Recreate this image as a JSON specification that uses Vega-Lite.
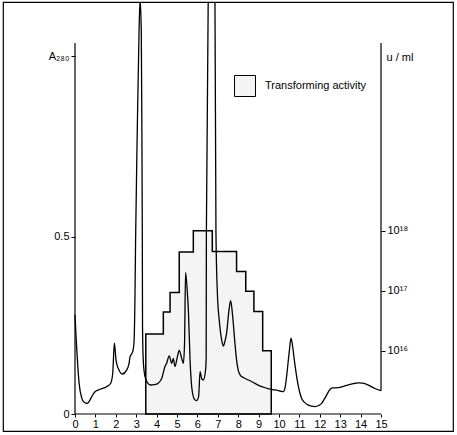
{
  "$schema": "https://vega.github.io/schema/vega-lite/v6.json",
  "width": 450,
  "height": 429,
  "autosize": "none",
  "padding": {"left": 3, "top": 2, "right": 4, "bottom": 4},
  "config": {
    "view": {"stroke": "black", "strokeWidth": 1.2},
    "font": "Liberation Sans",
    "axis": {"labelFont": "Liberation Sans", "labelColor": "black", "tickColor": "black", "grid": false, "domain": false, "labelFontSize": 11}
  },
  "datasets": {
    "activity": [
      {"fraction": 3.47, "units_per_ml": 1.9e16},
      {"fraction": 4.33, "units_per_ml": 4.4e16},
      {"fraction": 4.66, "units_per_ml": 9.3e16},
      {"fraction": 5.11, "units_per_ml": 4.4e17},
      {"fraction": 5.8, "units_per_ml": 1.0e18},
      {"fraction": 6.73, "units_per_ml": 4.5e17},
      {"fraction": 7.92, "units_per_ml": 2.1e17},
      {"fraction": 8.37, "units_per_ml": 9.8e16},
      {"fraction": 8.77, "units_per_ml": 4.5e16},
      {"fraction": 9.2, "units_per_ml": 1.0e16},
      {"fraction": 9.62, "units_per_ml": 1.0e16}
    ],
    "a280": [
      {"fraction": 0.0, "A280": 0.28},
      {"fraction": 0.05, "A280": 0.22},
      {"fraction": 0.11, "A280": 0.16},
      {"fraction": 0.2, "A280": 0.088},
      {"fraction": 0.33, "A280": 0.045},
      {"fraction": 0.45, "A280": 0.033},
      {"fraction": 0.6, "A280": 0.03},
      {"fraction": 0.72, "A280": 0.038},
      {"fraction": 0.82, "A280": 0.049},
      {"fraction": 0.98, "A280": 0.063},
      {"fraction": 1.23, "A280": 0.07},
      {"fraction": 1.55, "A280": 0.077},
      {"fraction": 1.75, "A280": 0.087},
      {"fraction": 1.85, "A280": 0.115},
      {"fraction": 1.93, "A280": 0.2},
      {"fraction": 2.01, "A280": 0.153},
      {"fraction": 2.12, "A280": 0.129},
      {"fraction": 2.32, "A280": 0.113},
      {"fraction": 2.53, "A280": 0.124},
      {"fraction": 2.65, "A280": 0.143},
      {"fraction": 2.7, "A280": 0.162},
      {"fraction": 2.83, "A280": 0.176},
      {"fraction": 2.89, "A280": 0.2},
      {"fraction": 2.94, "A280": 0.33},
      {"fraction": 2.97, "A280": 0.49},
      {"fraction": 3.05, "A280": 0.79},
      {"fraction": 3.14, "A280": 1.08},
      {"fraction": 3.19, "A280": 1.17},
      {"fraction": 3.25, "A280": 1.08},
      {"fraction": 3.28, "A280": 0.79},
      {"fraction": 3.3, "A280": 0.49},
      {"fraction": 3.31, "A280": 0.25},
      {"fraction": 3.34, "A280": 0.16},
      {"fraction": 3.39, "A280": 0.12},
      {"fraction": 3.46, "A280": 0.1},
      {"fraction": 3.56, "A280": 0.088},
      {"fraction": 3.7, "A280": 0.082},
      {"fraction": 3.9, "A280": 0.083},
      {"fraction": 4.08, "A280": 0.087},
      {"fraction": 4.25, "A280": 0.1},
      {"fraction": 4.41, "A280": 0.134},
      {"fraction": 4.49, "A280": 0.143},
      {"fraction": 4.62, "A280": 0.164},
      {"fraction": 4.74, "A280": 0.143},
      {"fraction": 4.82, "A280": 0.157},
      {"fraction": 4.9, "A280": 0.134},
      {"fraction": 5.02, "A280": 0.162},
      {"fraction": 5.11, "A280": 0.18},
      {"fraction": 5.23, "A280": 0.157},
      {"fraction": 5.31, "A280": 0.143},
      {"fraction": 5.37, "A280": 0.2},
      {"fraction": 5.42, "A280": 0.4},
      {"fraction": 5.5, "A280": 0.35},
      {"fraction": 5.56, "A280": 0.29},
      {"fraction": 5.64, "A280": 0.153},
      {"fraction": 5.72, "A280": 0.077},
      {"fraction": 5.85, "A280": 0.042},
      {"fraction": 5.96, "A280": 0.038},
      {"fraction": 6.06, "A280": 0.05},
      {"fraction": 6.13, "A280": 0.12},
      {"fraction": 6.21, "A280": 0.1},
      {"fraction": 6.29, "A280": 0.096},
      {"fraction": 6.4, "A280": 0.124},
      {"fraction": 6.43, "A280": 0.16},
      {"fraction": 6.44, "A280": 0.51},
      {"fraction": 6.53, "A280": 1.17},
      {"fraction": 6.7, "A280": 1.4},
      {"fraction": 6.86, "A280": 1.17},
      {"fraction": 6.91, "A280": 0.51},
      {"fraction": 6.98, "A280": 0.34},
      {"fraction": 7.07, "A280": 0.266},
      {"fraction": 7.19, "A280": 0.209},
      {"fraction": 7.27, "A280": 0.192},
      {"fraction": 7.35, "A280": 0.205},
      {"fraction": 7.43, "A280": 0.228},
      {"fraction": 7.55, "A280": 0.294},
      {"fraction": 7.63, "A280": 0.32},
      {"fraction": 7.73, "A280": 0.275},
      {"fraction": 7.84, "A280": 0.2},
      {"fraction": 7.92, "A280": 0.153},
      {"fraction": 8.0, "A280": 0.124},
      {"fraction": 8.1, "A280": 0.11},
      {"fraction": 8.25, "A280": 0.103},
      {"fraction": 8.5, "A280": 0.096},
      {"fraction": 8.74, "A280": 0.089},
      {"fraction": 9.0, "A280": 0.081},
      {"fraction": 9.23, "A280": 0.076},
      {"fraction": 9.5, "A280": 0.071},
      {"fraction": 9.8, "A280": 0.068},
      {"fraction": 10.05, "A280": 0.065},
      {"fraction": 10.21, "A280": 0.063},
      {"fraction": 10.3, "A280": 0.075},
      {"fraction": 10.38, "A280": 0.11},
      {"fraction": 10.5, "A280": 0.175},
      {"fraction": 10.59, "A280": 0.214},
      {"fraction": 10.67, "A280": 0.19},
      {"fraction": 10.75, "A280": 0.153},
      {"fraction": 10.92, "A280": 0.087},
      {"fraction": 11.0, "A280": 0.065},
      {"fraction": 11.11, "A280": 0.044},
      {"fraction": 11.25, "A280": 0.033},
      {"fraction": 11.44, "A280": 0.025},
      {"fraction": 11.6, "A280": 0.022},
      {"fraction": 11.76, "A280": 0.021},
      {"fraction": 11.95, "A280": 0.024},
      {"fraction": 12.09, "A280": 0.03},
      {"fraction": 12.22, "A280": 0.042},
      {"fraction": 12.34, "A280": 0.054},
      {"fraction": 12.48, "A280": 0.068},
      {"fraction": 12.61, "A280": 0.074},
      {"fraction": 12.8, "A280": 0.074},
      {"fraction": 12.99, "A280": 0.075},
      {"fraction": 13.2, "A280": 0.079},
      {"fraction": 13.4, "A280": 0.082},
      {"fraction": 13.65, "A280": 0.086},
      {"fraction": 13.89, "A280": 0.088},
      {"fraction": 14.1, "A280": 0.087},
      {"fraction": 14.3, "A280": 0.084},
      {"fraction": 14.5, "A280": 0.078},
      {"fraction": 14.7, "A280": 0.072},
      {"fraction": 15.0, "A280": 0.066}
    ],
    "axislines": [
      {"x": 0, "x2": 0, "y": 0, "y2": 1.048},
      {"x": 15, "x2": 15, "y": 0.066, "y2": 1.048},
      {"x": 0, "x2": 15, "y": 0, "y2": 0}
    ]
  },
  "layer": [
    {
      "data": {"name": "activity"},
      "mark": {"type": "area", "interpolate": "step-after", "stroke": "black", "strokeWidth": 1.5, "opacity": 1, "clip": true},
      "encoding": {
        "x": {"field": "fraction", "type": "quantitative", "scale": {"domain": [-3.529, 18.529], "nice": false, "zero": false},
          "axis": {"orient": "bottom", "offset": -17, "values": [0,1,2,3,4,5,6,7,8,9,10,11,12,13,14,15], "tickSize": 3, "labelPadding": 1, "title": null, "labelOverlap": false, "labelFlush": false}},
        "y": {"field": "units_per_ml", "type": "quantitative", "scale": {"type": "log", "domain": [4.592e14, 6.486e21], "nice": false},
          "axis": {"orient": "right", "offset": -72, "values": [1e16, 1e17, 1e18], "labelExpr": "datum.value < 5e16 ? '10¹⁶' : datum.value < 5e17 ? '10¹⁷' : '10¹⁸'", "tickSize": 4, "labelPadding": 2, "title": "u / ml", "titleAngle": 0, "titleX": 5, "titleY": 55, "titleAlign": "left", "titleBaseline": "middle", "titleFontWeight": "normal", "titleFontSize": 11, "titleFont": "Liberation Sans", "titleColor": "black"}},
        "y2": {"datum": 8.81e14},
        "fill": {"datum": "Transforming activity", "type": "nominal", "scale": {"range": ["#f4f4f4"]},
          "legend": {"orient": "none", "legendX": 231, "legendY": 73, "title": null, "padding": 0, "symbolType": "square", "symbolSize": 441, "symbolStrokeColor": "black", "symbolStrokeWidth": 1, "symbolOpacity": 1, "labelFontSize": 11, "labelFont": "Liberation Sans", "labelColor": "black", "labelOffset": 9}}
      }
    },
    {
      "data": {"name": "a280"},
      "mark": {"type": "line", "interpolate": "monotone", "color": "black", "strokeWidth": 1.3, "clip": true},
      "encoding": {
        "x": {"field": "fraction", "type": "quantitative", "scale": {"domain": [-3.529, 18.529], "nice": false, "zero": false},
          "axis": {"orient": "bottom", "offset": -17, "values": [0,1,2,3,4,5,6,7,8,9,10,11,12,13,14,15], "tickSize": 3, "labelPadding": 1, "title": null, "labelOverlap": false, "labelFlush": false}},
        "y": {"field": "A280", "type": "quantitative", "scale": {"domain": [-0.048, 1.1638], "nice": false, "zero": false},
          "axis": {"orient": "left", "offset": -72, "values": [0, 0.5, 1.01], "labelExpr": "datum.value == 0 ? '0' : datum.value == 0.5 ? '0.5' : 'A₂₈₀'", "tickSize": 4, "labelPadding": 2, "title": null}}
      }
    },
    {
      "data": {"name": "axislines"},
      "mark": {"type": "rule", "color": "black", "strokeWidth": 1.2},
      "encoding": {
        "x": {"field": "x", "type": "quantitative", "scale": {"domain": [-3.529, 18.529], "nice": false, "zero": false},
          "axis": {"orient": "bottom", "offset": -17, "values": [0,1,2,3,4,5,6,7,8,9,10,11,12,13,14,15], "tickSize": 3, "labelPadding": 1, "title": null, "labelOverlap": false, "labelFlush": false}},
        "x2": {"field": "x2"},
        "y": {"field": "y", "type": "quantitative", "scale": {"domain": [-0.048, 1.1638], "nice": false, "zero": false}, "axis": null},
        "y2": {"field": "y2"}
      }
    }
  ],
  "resolve": {"scale": {"y": "independent"}}
}
